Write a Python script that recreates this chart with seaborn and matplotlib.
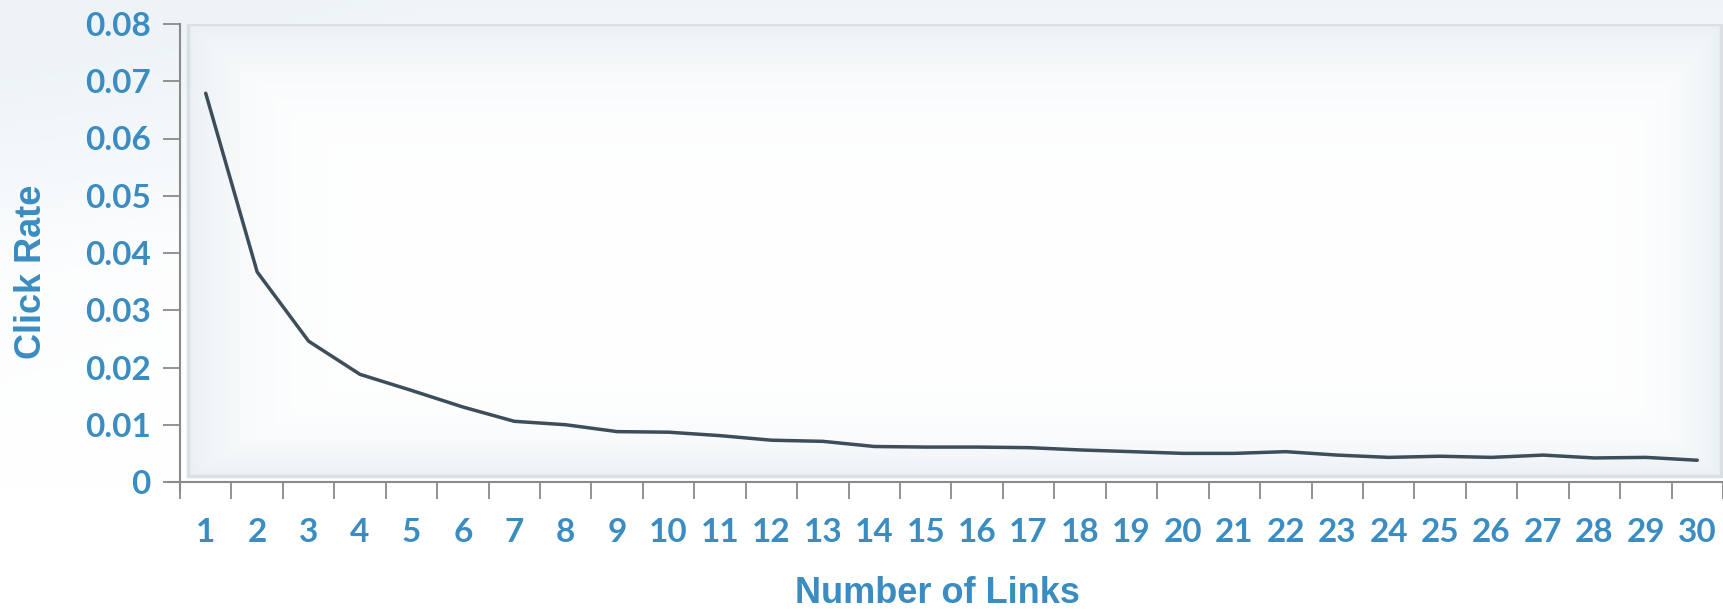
import numpy as np
import pandas as pd
import matplotlib
matplotlib.use("Agg")
import matplotlib.pyplot as plt
import seaborn as sns
from matplotlib.patches import Rectangle
from matplotlib.lines import Line2D

# data
links = list(range(1, 31))
click_rate = [0.0679, 0.0367, 0.0246, 0.0188, 0.0160, 0.0131, 0.0106, 0.0100,
              0.0088, 0.0087, 0.0081, 0.0073, 0.0071, 0.0062, 0.0061, 0.0061,
              0.0060, 0.0056, 0.0053, 0.0050, 0.0050, 0.0053, 0.0047, 0.0043,
              0.0045, 0.0043, 0.0047, 0.0042, 0.0043, 0.0038]
y_ticks = [0, 0.01, 0.02, 0.03, 0.04, 0.05, 0.06, 0.07, 0.08]
y_tick_labels = ['0', '0.01', '0.02', '0.03', '0.04', '0.05', '0.06', '0.07', '0.08']

df = pd.DataFrame({'links': links, 'rate': click_rate})

sns.set_style("white")
blue = '#3a8cc1'
grey = '#8a8a8a'

fig = plt.figure(figsize=(17.24, 6.10), dpi=100)

# soft background wash of the page
bg = fig.add_axes([0, 0, 1, 1], zorder=-10)
yy, xx = np.mgrid[0:1:200j, 0:1:400j]
wash = np.clip(1 - yy / 0.45, 0, 1) * 0.9 + np.clip(1 - xx / 0.25, 0, 1) * np.clip(1 - yy / 0.8, 0, 1) * 0.4
wash = np.clip(wash, 0, 1)
c0 = np.array([0.93, 0.955, 0.97])
img = np.ones((200, 400, 3)) * (1 - wash[..., None]) + c0 * wash[..., None]
bg.imshow(img, extent=[0, 1, 0, 1], aspect='auto', origin='upper')
bg.axis('off')

ax = fig.add_axes([180 / 1724, 1 - 482 / 610, 1543 / 1724, 458 / 610])
ax.patch.set_alpha(0)

# panel with faded edges
pl, pr, pb, pt = 0.005, 0.9987, 0.013, 1.0
py, px = np.mgrid[0:1:300j, 0:1:600j]
d = np.minimum.reduce([px / 0.04, (1 - px) / 0.03, py / 0.12, (1 - py) / 0.08])
shade = np.exp(-np.clip(d, 0, None) * 1.2)
edge = np.array([0.915, 0.94, 0.955])
pimg = np.ones((300, 600, 3)) * (1 - shade[..., None]) + edge * shade[..., None]
ax.imshow(pimg, extent=[pl, pr, pb, pt], transform=ax.transAxes, aspect='auto',
          origin='upper', zorder=0)
ax.add_patch(Rectangle((pl, pb), pr - pl, pt - pb, transform=ax.transAxes,
                       fill=False, edgecolor='#dadfe3', lw=2.5, zorder=1))

sns.lineplot(data=df, x='links', y='rate', color='#3d4d5a', lw=2.5, ax=ax, zorder=3)

ax.set_xlim(0.5, 30.5)
ax.set_ylim(0, 0.08)

ax.set_yticks(y_ticks)
ax.set_yticklabels(y_tick_labels)
ax.set_xticks(np.arange(0.5, 31, 1))
ax.set_xticklabels([])
ax.set_xticks(links, minor=True)
ax.set_xticklabels([str(v) for v in links], minor=True)

ax.tick_params(axis='both', which='major', direction='out', length=12, width=1.3,
               color=grey, bottom=True, left=True)
ax.tick_params(axis='y', which='major', labelsize=24, labelcolor=blue, pad=9)
ax.tick_params(axis='x', which='minor', length=0, labelsize=24, labelcolor=blue, pad=26)
for lab in ax.get_yticklabels() + ax.get_xticklabels(minor=True):
    lab.set_family('Lato')
    lab.set_fontweight('bold')

for s in ['top', 'right']:
    ax.spines[s].set_visible(False)
for s in ['left', 'bottom']:
    ax.spines[s].set_color(grey)
    ax.spines[s].set_linewidth(1.5)
# small overshoot of the axis lines at the origin
ax.add_line(Line2D([-12 / 1543, 0], [0, 0], transform=ax.transAxes, color=grey,
                   lw=1.5, clip_on=False))
ax.add_line(Line2D([0, 0], [-10 / 458, 0], transform=ax.transAxes, color=grey,
                   lw=1.5, clip_on=False))

ax.set_xlabel('Number of Links', fontsize=26, fontweight='bold', color=blue,
              family='Liberation Sans', va='top')
ax.xaxis.set_label_coords(0.491, -0.205)
ax.set_ylabel('Click Rate', fontsize=26, fontweight='bold', color=blue,
              family='Liberation Sans')
ax.yaxis.set_label_coords(-0.085, 0.46)

fig.savefig('out.png', dpi=100)
